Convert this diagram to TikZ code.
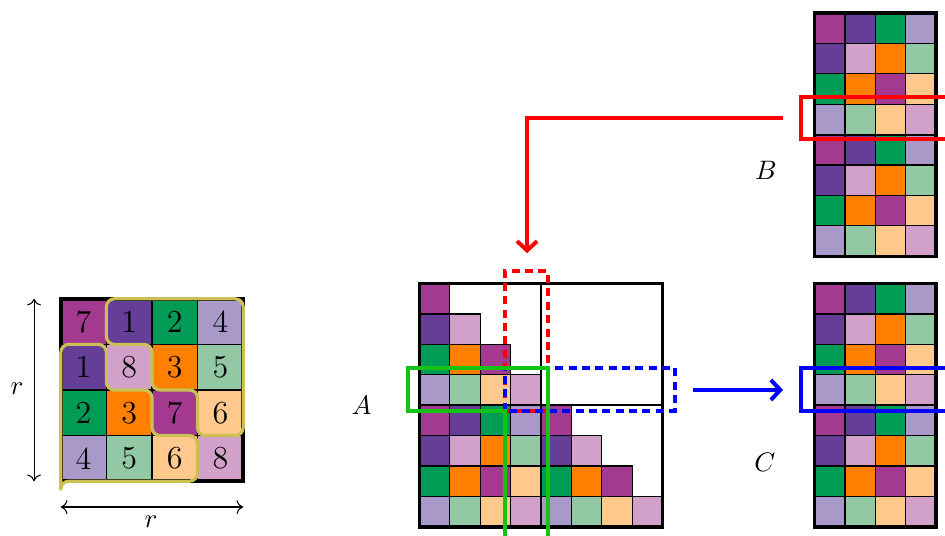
\documentclass[tikz,border=0pt]{standalone}
\usepackage{xcolor}
\usepackage{tikz}
\usetikzlibrary{arrows.meta}
\definecolor{c1}{RGB}{101,63,151}
\definecolor{c2}{RGB}{0,155,85}
\definecolor{c3}{RGB}{255,128,0}
\definecolor{c4}{RGB}{168,153,200}
\definecolor{c5}{RGB}{147,200,165}
\definecolor{c6}{RGB}{255,200,140}
\definecolor{c7}{RGB}{164,58,143}
\definecolor{c8}{RGB}{209,161,201}
\definecolor{yel}{RGB}{204,192,85}
\definecolor{grn}{RGB}{20,195,20}

\begin{document}
\begin{tikzpicture}[x=0.4cm, y=0.4cm,
  cellS/.style={draw=black, line width=0.45pt, minimum size=0.4cm, inner sep=0pt, outer sep=0pt, anchor=south west},
  cellL/.style={draw=black, line width=0.45pt, minimum size=0.6cm, inner sep=0pt, outer sep=0pt, anchor=south west, font=\large},
  frame/.style={line width=1.3pt},
  split/.style={line width=0.8pt},
  band/.style={line width=1.5pt},
  tip/.style={-{Straight Barb[length=3.5pt,width=7.5pt]}}]
\useasboundingbox (0,0) rectangle (31.09,17.63);
% ---- left: the r x r block with its two triangles
\foreach \r/\row in {1/{7,1,2,4},2/{1,8,3,5},3/{2,3,7,6},4/{4,5,6,8}}
  \foreach \v [count=\c] in \row
    \node[cellL, fill=c\v] (L\r\c) at ({2+1.5*(\c-1)},{7.8-1.5*\r}) {\v};
\draw[frame] (2,1.8) rectangle (8,7.8);
\draw[yel, line width=1.2pt, rounded corners=3pt] (3.5,7.8) -- (3.5,6.3) -- (5,6.3) -- (5,4.8)
  -- (6.5,4.8) -- (6.5,3.3) -- (8,3.3) -- (8,7.8) -- cycle;
\draw[yel, line width=1.2pt, rounded corners=3pt] (2,1.5) -- (2,6.3) -- (3.5,6.3) -- (3.5,4.8)
  -- (5,4.8) -- (5,3.3) -- (6.5,3.3) -- (6.5,1.8) -- (2,1.8) -- (2,1.5);
\coordinate (rvB) at (1.12,1.8);
\coordinate (rvT) at (1.12,7.8);
\coordinate (rhL) at (2,0.95);
\coordinate (rhR) at (8,0.95);
\draw[<->] (rvB) -- (rvT);
\draw[<->] (rhL) -- (rhR);
\node (lblRv) at (0.56,4.84) {$r$};
\node (lblRh) at (4.97,0.46) {$r$};
% ---- middle: lower-triangular A
\foreach \r/\row in {1/{7},2/{1,8},3/{2,3,7},4/{4,5,6,8}}
  \foreach \v [count=\c] in \row {
    \node[cellS, fill=c\v] (Aa\r\c) at ({13.8+\c-1},{8.3-\r}) {};
    \node[cellS, fill=c\v] (Ac\r\c) at ({17.8+\c-1},{4.3-\r}) {};
  }
% ---- full blocks: A bottom-left, B and C
\foreach \r/\row in {1/{7,1,2,4},2/{1,8,3,5},3/{2,3,7,6},4/{4,5,6,8}}
  \foreach \v [count=\c] in \row {
    \node[cellS, fill=c\v] (Ab\r\c) at ({13.8+\c-1},{4.3-\r}) {};
    \node[cellS, fill=c\v] (Bt\r\c) at ({26.8+\c-1},{17.2-\r}) {};
    \node[cellS, fill=c\v] (Bb\r\c) at ({26.8+\c-1},{13.2-\r}) {};
    \node[cellS, fill=c\v] (Ct\r\c) at ({26.8+\c-1},{8.3-\r}) {};
    \node[cellS, fill=c\v] (Cb\r\c) at ({26.8+\c-1},{4.3-\r}) {};
  }
\draw[frame] (13.8,0.3) rectangle (21.8,8.3);
\draw[split] (17.8,0.3) -- (17.8,8.3) (13.8,4.3) -- (21.8,4.3);
\draw[frame] (26.8,9.2) rectangle (30.8,17.2);
\draw[split] (26.8,13.2) -- (30.8,13.2);
\draw[frame] (26.8,0.3) rectangle (30.8,8.3);
\draw[split] (26.8,4.3) -- (30.8,4.3);
\node (lblA) at (11.9,4.28) {$A$};
\node (lblB) at (25.2,12.04) {$B$};
\node (lblC) at (25.16,2.43) {$C$};
% ---- highlights
\draw[red, band, dash pattern=on 3pt off 2pt] (16.6,4.1) rectangle (18.03,8.7);
\draw[blue, band, dash pattern=on 3pt off 2pt] (16.6,4.12) rectangle (22.2,5.53);
\draw[grn, band] (16.6,-0.5) -- (16.6,4.12) -- (13.42,4.12) -- (13.42,5.53)
  -- (18.03,5.53) -- (18.03,-0.5);
\draw[red, band] (26.35,13.05) rectangle (31.6,14.45);
\draw[blue, band] (26.35,4.12) rectangle (31.6,5.53);
\coordinate (redFrom) at (25.76,13.75);
\coordinate (redTo) at (17.34,9.3);
\draw[red, band, tip] (redFrom) -| (redTo);
\coordinate (blueFrom) at (22.8,4.8);
\coordinate (blueTo) at (25.76,4.8);
\draw[blue, band, tip] (blueFrom) -- (blueTo);
\end{tikzpicture}
\end{document}
